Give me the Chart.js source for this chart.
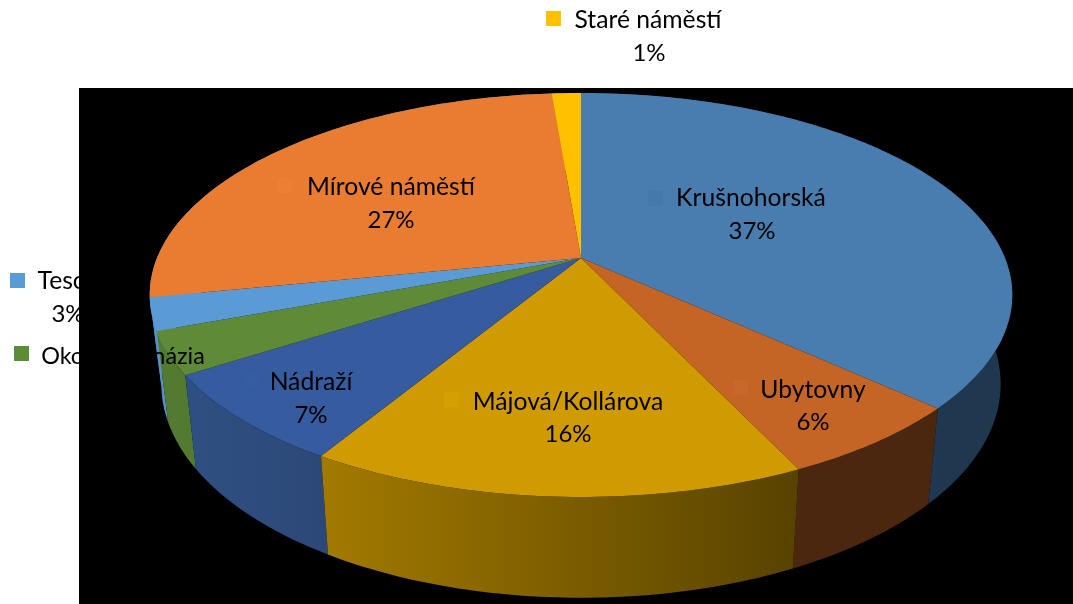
<!DOCTYPE html>
<html>
<head>
<meta charset="utf-8">
<style>
  body { margin: 0; background: #fff; overflow: hidden; }
  canvas { display: block; }
</style>
<script src="https://cdn.jsdelivr.net/npm/chart.js@4"></script>
</head>
<body>
<canvas id="pie-chart" width="1073" height="604"></canvas>
<script>
const categories = ['Krušnohorská', 'Ubytovny', 'Májová/Kollárova', 'Nádraží', 'Okolo gymnázia', 'Tesco', 'Mírové náměstí', 'Staré náměstí'];
const shares = [36.8, 6.15, 15.7, 7.25, 3.4, 2.6, 26.8, 1.3];

const topColors = ['#4A7DAF', '#C46526', '#D09B00', '#365B9F', '#5F8B39', '#5B9BD5', '#EA7C31', '#FFC000'];
const sideColorsLeft = ['#1F3850', '#4C270F', '#A37A00', '#2F5083', '#527A30', '#5692C9', '#5692C9', '#B88A00'];
const sideColorsRight = ['#1F3850', '#4C270F', '#574200', '#2C4878', '#527A30', '#5692C9', '#5692C9', '#B88A00'];
const keyColors = ['#4678A9', '#C8682B', '#D49F03', '#375DA1', '#5B8C38', '#5B9BD5', '#ED7F35', '#FFC000'];

// where each label sits: [name x, name y, percent x, percent y, key x, key y, name font size]
const labelSpots = [
  [751, 198, 752, 231, 648, 191, 24.7],
  [813, 390, 813, 422, 733, 380, 24.7],
  [568, 402, 568, 434, 444, 392, 24.7],
  [311, 382, 311, 415, 244, 372, 24.7],
  [123, 356, 123, 389, 14, 346, 23.4],
  [68, 281, 68, 314, 10, 273, 24.7],
  [391, 187, 391, 220, 277, 178, 24.7],
  [648, 20, 649, 53, 546, 11, 24.7]
];

// perspective of the pie disc, fitted on the reference
const cx = 581, cy = 258, radiusX = 424, radiusY = 148, tilt = -0.183;
const bottomScale = 0.973, bottomStretch = 1.058, bottomShift = 72;

function topPoint(angle) {
  const u = Math.cos(angle), v = Math.sin(angle);
  const d = 1 + tilt * v;
  return { x: cx + radiusX * u / d, y: (cy + radiusY * v) / d };
}

function bottomPoint(angle) {
  const p = topPoint(angle);
  return { x: cx + bottomScale * (p.x - cx), y: bottomStretch * p.y + bottomShift };
}

function rimAngles(start, end) {
  const steps = Math.max(4, Math.ceil((end - start) * 60));
  const list = [];
  for (let i = 0; i <= steps; i++) list.push(start + (end - start) * i / steps);
  return list;
}

const pie3d = {
  id: 'pie3d',
  beforeDraw(chart) {
    const ctx = chart.ctx;
    ctx.fillStyle = '#000';
    ctx.fillRect(79, 88, 994, 516);
  },
  beforeDatasetDraw(chart, args) {
    const ctx = chart.ctx;
    const arcs = args.meta.data;

    // side wall first, back to front, the top face covers the back of it
    const order = arcs.map((arc, i) => i).sort((a, b) =>
      Math.sin((arcs[a].startAngle + arcs[a].endAngle) / 2) - Math.sin((arcs[b].startAngle + arcs[b].endAngle) / 2));
    order.forEach(i => {
      const arc = arcs[i];
      const angles = rimAngles(arc.startAngle, arc.endAngle);
      const top = angles.map(topPoint);
      const bottom = angles.map(bottomPoint).reverse();
      const xs = top.map(p => p.x);
      const grad = ctx.createLinearGradient(Math.min(...xs), 0, Math.max(...xs), 0);
      grad.addColorStop(0, sideColorsLeft[i]);
      grad.addColorStop(1, sideColorsRight[i]);
      ctx.beginPath();
      top.concat(bottom).forEach((p, n) => n ? ctx.lineTo(p.x, p.y) : ctx.moveTo(p.x, p.y));
      ctx.closePath();
      ctx.fillStyle = grad;
      ctx.fill();
    });

    arcs.forEach((arc, i) => {
      ctx.beginPath();
      ctx.moveTo(cx, cy);
      rimAngles(arc.startAngle, arc.endAngle).map(topPoint).forEach(p => ctx.lineTo(p.x, p.y));
      ctx.closePath();
      ctx.fillStyle = topColors[i];
      ctx.fill();
    });
    return false;
  },
  afterDatasetsDraw(chart) {
    const ctx = chart.ctx;
    ctx.textAlign = 'center';
    ctx.textBaseline = 'middle';
    categories.forEach((name, i) => {
      const s = labelSpots[i];
      ctx.fillStyle = keyColors[i];
      ctx.fillRect(s[4], s[5], 15, 15);
      // plain black, the part of a label over the black plot area disappears as in the original
      ctx.fillStyle = '#000';
      ctx.font = s[6] + 'px Lato';
      ctx.fillText(name, s[0], s[1]);
      ctx.font = '24px Lato';
      ctx.fillText(Math.round(shares[i]) + '%', s[2], s[3]);
    });
  }
};

const chart = new Chart(document.getElementById('pie-chart'), {
  type: 'pie',
  data: {
    labels: categories,
    datasets: [{ data: shares, backgroundColor: topColors, borderWidth: 0 }]
  },
  options: {
    responsive: false,
    animation: false,
    plugins: { legend: { display: false }, tooltip: { enabled: false } }
  },
  plugins: [pie3d]
});
</script>
</body>
</html>
